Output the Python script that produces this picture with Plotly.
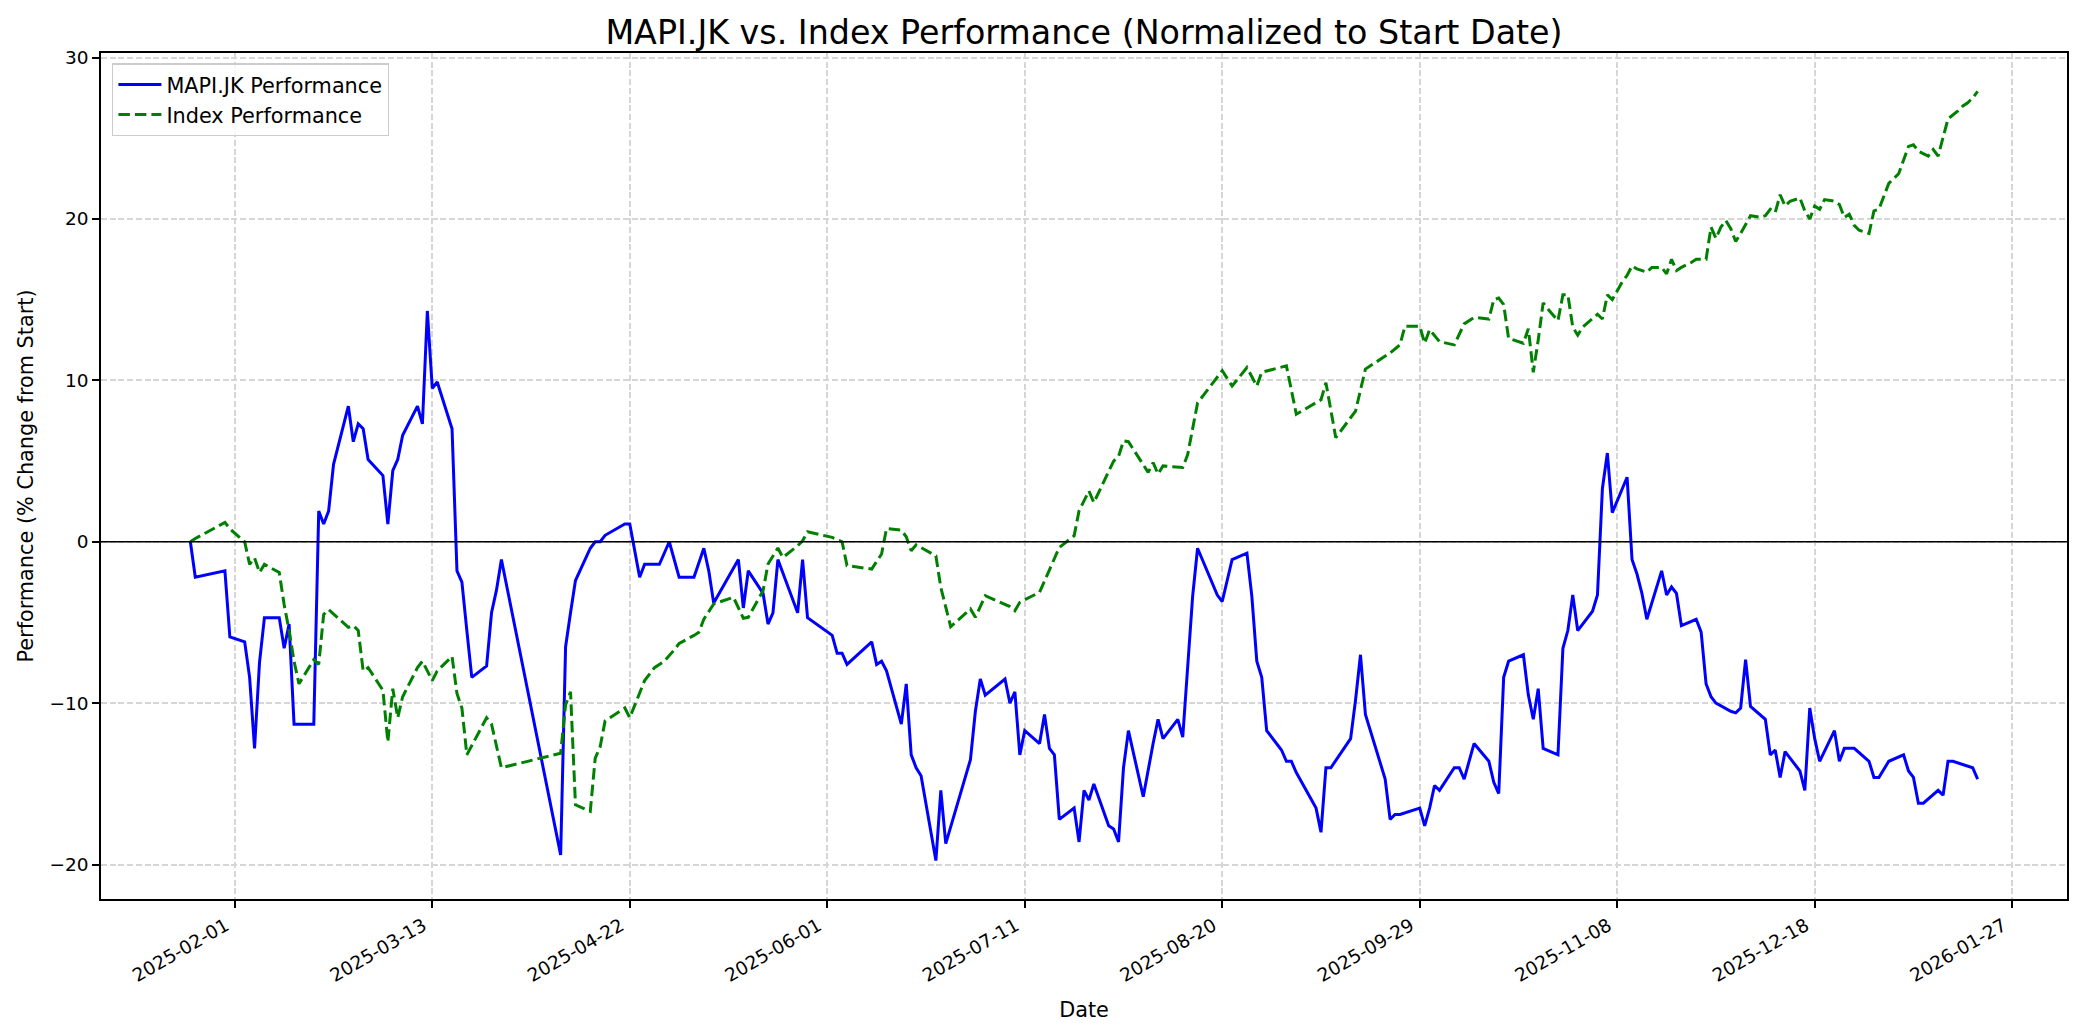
import plotly.graph_objects as go
import pandas as pd

TITLE = "MAPI.JK vs. Index Performance (Normalized to Start Date)"
X_LABEL = "Date"
Y_LABEL = "Performance (% Change from Start)"
STOCK_NAME = "MAPI.JK Performance"
INDEX_NAME = "Index Performance"

STOCK_DATES = [
    "2025-01-23", "2025-01-24", "2025-01-30", "2025-01-31",
    "2025-02-03", "2025-02-04", "2025-02-05", "2025-02-06", "2025-02-07", "2025-02-10", "2025-02-11",
    "2025-02-12", "2025-02-13", "2025-02-14", "2025-02-17", "2025-02-18", "2025-02-19", "2025-02-20",
    "2025-02-21", "2025-02-24", "2025-02-25", "2025-02-26", "2025-02-27", "2025-02-28",
    "2025-03-03", "2025-03-04", "2025-03-05", "2025-03-06", "2025-03-07", "2025-03-10", "2025-03-11",
    "2025-03-12", "2025-03-13", "2025-03-14", "2025-03-17", "2025-03-18", "2025-03-19", "2025-03-20",
    "2025-03-21", "2025-03-24", "2025-03-25", "2025-03-26", "2025-03-27",
    "2025-04-08", "2025-04-09", "2025-04-10", "2025-04-11", "2025-04-14", "2025-04-15", "2025-04-16",
    "2025-04-17", "2025-04-21", "2025-04-22", "2025-04-24", "2025-04-25", "2025-04-28", "2025-04-30",
    "2025-05-02", "2025-05-05", "2025-05-07", "2025-05-08", "2025-05-09", "2025-05-14", "2025-05-15",
    "2025-05-16", "2025-05-19", "2025-05-20", "2025-05-21", "2025-05-22", "2025-05-26", "2025-05-27",
    "2025-05-28",
    "2025-06-02", "2025-06-03", "2025-06-04", "2025-06-05", "2025-06-10", "2025-06-11", "2025-06-12",
    "2025-06-13", "2025-06-16", "2025-06-17", "2025-06-18", "2025-06-19", "2025-06-20", "2025-06-23",
    "2025-06-24", "2025-06-25", "2025-06-30",
    "2025-07-01", "2025-07-02", "2025-07-03", "2025-07-07", "2025-07-08", "2025-07-09", "2025-07-10",
    "2025-07-11", "2025-07-14", "2025-07-15", "2025-07-16", "2025-07-17", "2025-07-18", "2025-07-21",
    "2025-07-22", "2025-07-23", "2025-07-24", "2025-07-25", "2025-07-28", "2025-07-29", "2025-07-30",
    "2025-07-31",
    "2025-08-01", "2025-08-04", "2025-08-06", "2025-08-07", "2025-08-08", "2025-08-11", "2025-08-12",
    "2025-08-13", "2025-08-14", "2025-08-15", "2025-08-19", "2025-08-20", "2025-08-22", "2025-08-25",
    "2025-08-26", "2025-08-27", "2025-08-28", "2025-08-29",
    "2025-09-01", "2025-09-02", "2025-09-03", "2025-09-04", "2025-09-08", "2025-09-09", "2025-09-10",
    "2025-09-11", "2025-09-15", "2025-09-16", "2025-09-17", "2025-09-18", "2025-09-19", "2025-09-22",
    "2025-09-23", "2025-09-24", "2025-09-25", "2025-09-29", "2025-09-30",
    "2025-10-01", "2025-10-02", "2025-10-03", "2025-10-06", "2025-10-07", "2025-10-08", "2025-10-09",
    "2025-10-10", "2025-10-13", "2025-10-14", "2025-10-15", "2025-10-16", "2025-10-17", "2025-10-20",
    "2025-10-21", "2025-10-22", "2025-10-23", "2025-10-24", "2025-10-27", "2025-10-28", "2025-10-29",
    "2025-10-30", "2025-10-31",
    "2025-11-03", "2025-11-04", "2025-11-05", "2025-11-06", "2025-11-07", "2025-11-10", "2025-11-11",
    "2025-11-12", "2025-11-13", "2025-11-14", "2025-11-17", "2025-11-18", "2025-11-19", "2025-11-20",
    "2025-11-21", "2025-11-24", "2025-11-25", "2025-11-26", "2025-11-27", "2025-11-28",
    "2025-12-01", "2025-12-02", "2025-12-03", "2025-12-04", "2025-12-05", "2025-12-08", "2025-12-09",
    "2025-12-10", "2025-12-11", "2025-12-12", "2025-12-15", "2025-12-16", "2025-12-17", "2025-12-18",
    "2025-12-19", "2025-12-22", "2025-12-23", "2025-12-24", "2025-12-26", "2025-12-29", "2025-12-30",
    "2025-12-31",
    "2026-01-02", "2026-01-05", "2026-01-06", "2026-01-07", "2026-01-08", "2026-01-09", "2026-01-12",
    "2026-01-13", "2026-01-14", "2026-01-15", "2026-01-19", "2026-01-20",
]
STOCK_VALUES = [
    0.0, -2.2, -1.8, -5.9,
    -6.2, -8.4, -12.8, -7.5, -4.7, -4.7, -6.6,
    -5.1, -11.3, -11.3, -11.3, 1.9, 1.1, 1.9,
    4.8, 8.4, 6.2, 7.3, 7.0, 5.1,
    4.1, 1.1, 4.4, 5.1, 6.6, 8.4, 7.3,
    14.3, 9.5, 9.9, 7.0, -1.8, -2.5, -5.5,
    -8.4, -7.7, -4.4, -3.0, -1.1,
    -19.4, -6.5, -4.4, -2.4, -0.4, 0.0, 0.0,
    0.4, 1.1, 1.1, -2.2, -1.4, -1.4, 0.0,
    -2.2, -2.2, -0.4, -1.8, -3.8, -1.1, -4.1,
    -1.8, -3.2, -5.1, -4.4, -1.1, -4.4, -1.1,
    -4.7,
    -5.8, -6.9, -6.9, -7.6, -6.2, -7.6, -7.4,
    -8.0, -11.3, -8.8, -13.2, -14.0, -14.5, -19.75,
    -15.4, -18.7, -13.5,
    -10.5, -8.5, -9.5, -8.5, -10.0, -9.3, -13.2,
    -11.7, -12.5, -10.7, -12.8, -13.2, -17.2, -16.5,
    -18.6, -15.4, -16.0, -15.0, -17.6, -17.8, -18.6,
    -14.0,
    -11.7, -15.8, -12.5, -11.0, -12.2, -11.0, -12.1,
    -8.0, -3.4, -0.4, -3.3, -3.7, -1.1, -0.7,
    -3.4, -7.4, -8.4, -11.7,
    -12.9, -13.6, -13.6, -14.3, -16.5, -18.0, -14.0,
    -14.0, -12.2, -9.8, -7.0, -10.7, -11.7, -14.7,
    -17.2, -16.9, -16.9, -16.5, -17.6,
    -16.5, -15.1, -15.4, -14.0, -14.0, -14.7, -13.6,
    -12.5, -13.6, -14.9, -15.6, -8.4, -7.4, -7.0,
    -9.5, -11.0, -9.1, -12.8, -13.2, -6.6, -5.5,
    -3.3, -5.5,
    -4.3, -3.3, 3.3, 5.5, 1.8, 4.0, -1.1,
    -2.0, -3.2, -4.8, -1.8, -3.3, -2.8, -3.2,
    -5.2, -4.8, -5.6, -8.8, -9.6, -10.0,
    -10.5, -10.6, -10.3, -7.3, -10.2, -11.0, -13.2,
    -12.9, -14.6, -13.0, -14.2, -15.4, -10.3, -12.2,
    -13.6, -11.7, -13.6, -12.8, -12.8, -13.6, -14.6,
    -14.6,
    -13.6, -13.2, -14.2, -14.6, -16.2, -16.2, -15.4,
    -15.7, -13.6, -13.6, -14.0, -14.7,
]

INDEX_DATES = [
    "2025-01-23", "2025-01-24", "2025-01-30", "2025-01-31",
    "2025-02-03", "2025-02-04", "2025-02-05", "2025-02-06", "2025-02-07", "2025-02-10", "2025-02-11",
    "2025-02-12", "2025-02-13", "2025-02-14", "2025-02-17", "2025-02-18", "2025-02-19", "2025-02-20",
    "2025-02-24", "2025-02-25", "2025-02-26", "2025-02-27", "2025-02-28",
    "2025-03-03", "2025-03-04", "2025-03-05", "2025-03-06", "2025-03-07", "2025-03-10", "2025-03-11",
    "2025-03-12", "2025-03-13", "2025-03-14", "2025-03-17", "2025-03-18", "2025-03-19", "2025-03-20",
    "2025-03-21", "2025-03-24", "2025-03-25", "2025-03-27",
    "2025-04-08", "2025-04-09", "2025-04-10", "2025-04-11", "2025-04-14", "2025-04-15", "2025-04-16",
    "2025-04-17", "2025-04-18", "2025-04-21", "2025-04-22", "2025-04-23", "2025-04-24", "2025-04-25",
    "2025-04-27", "2025-04-29",
    "2025-05-01", "2025-05-02", "2025-05-05", "2025-05-06", "2025-05-07", "2025-05-09", "2025-05-13",
    "2025-05-14", "2025-05-15", "2025-05-16", "2025-05-19", "2025-05-20", "2025-05-22", "2025-05-23",
    "2025-05-26", "2025-05-27", "2025-05-28",
    "2025-06-02", "2025-06-04", "2025-06-05", "2025-06-10", "2025-06-12", "2025-06-13", "2025-06-16",
    "2025-06-17", "2025-06-18", "2025-06-19", "2025-06-23", "2025-06-24", "2025-06-26", "2025-06-30",
    "2025-07-01", "2025-07-03", "2025-07-08", "2025-07-09", "2025-07-10", "2025-07-14", "2025-07-18",
    "2025-07-21", "2025-07-22", "2025-07-24", "2025-07-25", "2025-07-29", "2025-07-30", "2025-07-31",
    "2025-08-01", "2025-08-04", "2025-08-05", "2025-08-06", "2025-08-07", "2025-08-08", "2025-08-12",
    "2025-08-13", "2025-08-15", "2025-08-20", "2025-08-22", "2025-08-25", "2025-08-27", "2025-08-28",
    "2025-09-02", "2025-09-04", "2025-09-09", "2025-09-10", "2025-09-12", "2025-09-16", "2025-09-18",
    "2025-09-23", "2025-09-25", "2025-09-26", "2025-09-29", "2025-09-30",
    "2025-10-01", "2025-10-03", "2025-10-06", "2025-10-08", "2025-10-10", "2025-10-13", "2025-10-14",
    "2025-10-15", "2025-10-16", "2025-10-17", "2025-10-20", "2025-10-21", "2025-10-22", "2025-10-23",
    "2025-10-24", "2025-10-25", "2025-10-27", "2025-10-28", "2025-10-29", "2025-10-30", "2025-10-31",
    "2025-11-01", "2025-11-03", "2025-11-04", "2025-11-05", "2025-11-06", "2025-11-07", "2025-11-08",
    "2025-11-09", "2025-11-10", "2025-11-11", "2025-11-12", "2025-11-14", "2025-11-15", "2025-11-17",
    "2025-11-18", "2025-11-19", "2025-11-20", "2025-11-21", "2025-11-23", "2025-11-24", "2025-11-26",
    "2025-11-27", "2025-11-28", "2025-11-29", "2025-11-30",
    "2025-12-01", "2025-12-02", "2025-12-03", "2025-12-05", "2025-12-07", "2025-12-08", "2025-12-09",
    "2025-12-10", "2025-12-11", "2025-12-12", "2025-12-13", "2025-12-15", "2025-12-16", "2025-12-17",
    "2025-12-18", "2025-12-19", "2025-12-20", "2025-12-22", "2025-12-23", "2025-12-24", "2025-12-25",
    "2025-12-26", "2025-12-27", "2025-12-29", "2025-12-30", "2025-12-31",
    "2026-01-01", "2026-01-02", "2026-01-04", "2026-01-05", "2026-01-06", "2026-01-07", "2026-01-08",
    "2026-01-10", "2026-01-11", "2026-01-12", "2026-01-13", "2026-01-14", "2026-01-16", "2026-01-17",
    "2026-01-18", "2026-01-19", "2026-01-20",
]
INDEX_VALUES = [
    0.0, 0.2, 1.2, 0.8,
    0.0, -1.4, -1.0, -1.9, -1.4, -1.9, -3.9,
    -5.5, -7.4, -8.8, -7.3, -7.6, -4.5, -4.2,
    -5.3, -5.2, -5.5, -8.0, -7.8,
    -9.2, -12.4, -9.1, -10.9, -9.6, -7.8, -7.4,
    -8.0, -8.6, -8.0, -7.1, -9.4, -10.3, -13.2,
    -12.6, -10.9, -11.3, -14.0,
    -13.1, -10.1, -9.3, -16.3, -16.7, -13.4, -12.7,
    -11.1, -10.9, -10.3, -10.9, -10.1, -9.3, -8.6,
    -7.8, -7.4,
    -6.7, -6.3, -5.8, -5.6, -4.8, -3.85, -3.44,
    -4.06, -4.74, -4.68, -3.03, -1.38, -0.39, -0.97,
    -0.25, 0.06, 0.62,
    0.27, 0.0, -1.48, -1.69, -0.76, 0.82, 0.72,
    0.31, -0.56, -0.19, -0.87, -2.83, -5.26, -4.16,
    -4.68, -3.34, -4.02, -4.27, -3.75, -3.13, -0.35,
    0.37, 1.92, 3.15, 2.43, 5.0, 5.3, 6.25,
    6.2, 4.8, 4.3, 4.9, 4.2, 4.7, 4.6,
    5.4, 8.6, 10.6, 9.65, 10.8, 9.65, 10.5,
    10.9, 7.9, 8.8, 9.85, 6.45, 8.1, 10.7,
    11.7, 12.2, 13.36, 13.36, 12.3,
    13.15, 12.4, 12.2, 13.5, 13.9, 13.8, 15.0,
    15.1, 14.7, 12.6, 12.3, 13.2, 10.5, 12.5,
    14.8, 14.4, 13.7, 15.3, 15.3, 13.3, 12.8,
    13.3, 13.8, 14.1, 13.8, 15.3, 15.0, 15.6,
    16.1, 16.5, 17.1, 16.9, 16.7, 17.0, 17.0,
    16.6, 17.5, 16.8, 17.0, 17.3, 17.5, 17.5,
    19.5, 18.8, 19.5, 19.9,
    19.4, 18.6, 19.1, 20.2, 20.1, 20.2, 20.6,
    20.4, 21.5, 20.8, 21.1, 21.3, 20.5, 20.0,
    20.8, 20.6, 21.2, 21.1, 20.9, 20.1, 20.3,
    19.6, 19.3, 19.1, 20.5, 20.6,
    21.4, 22.2, 22.8, 23.6, 24.5, 24.6, 24.2,
    23.9, 24.3, 23.9, 25.0, 26.2, 26.7, 27.0,
    27.2, 27.5, 27.9,
]

X_TICKS = ["2025-02-01", "2025-03-13", "2025-04-22", "2025-06-01", "2025-07-11",
           "2025-08-20", "2025-09-29", "2025-11-08", "2025-12-18", "2026-01-27"]
Y_TICKS = [-20, -10, 0, 10, 20, 30]

W, H = 2084, 1035
FONT = "DejaVu Sans"
TICK_SIZE = 18.5
LABEL_SIZE = 20.8
TITLE_SIZE = 33.3

# axis limits with a 5% margin, like the original
all_dates = pd.to_datetime(STOCK_DATES + INDEX_DATES)
dmin, dmax = all_dates.min(), all_dates.max()
dpad = (dmax - dmin) * 0.05
all_vals = STOCK_VALUES + INDEX_VALUES
vmin, vmax = min(all_vals), max(all_vals)
vpad = (vmax - vmin) * 0.05

fig = go.Figure()
fig.add_trace(go.Scatter(
    x=STOCK_DATES, y=STOCK_VALUES, mode="lines", name=STOCK_NAME,
    line=dict(color="#0000ff", width=3.0), legendgroup="a",
))
fig.add_trace(go.Scatter(
    x=INDEX_DATES, y=INDEX_VALUES, mode="lines", name=INDEX_NAME,
    line=dict(color="#008000", width=3.0, dash="11.5px,5px"), legendgroup="b",
))

fig.add_shape(type="line", xref="paper", x0=0, x1=1, yref="y", y0=0, y1=0,
              line=dict(color="black", width=1.4), layer="above")

axis_common = dict(
    showline=True, mirror=True, linecolor="black", linewidth=1.6,
    ticks="outside", ticklen=7, tickwidth=1.6, tickcolor="black",
    showgrid=True, gridcolor="#d6d6d6", gridwidth=1.6, griddash="6px,2.7px",
    zeroline=False, tickfont=dict(family=FONT, size=TICK_SIZE, color="black"),
)

fig.update_xaxes(
    type="date", range=[dmin - dpad, dmax + dpad],
    tickvals=X_TICKS, ticktext=X_TICKS, tickangle=-30, ticklabelshift=-9,
    title=dict(text=X_LABEL, font=dict(family=FONT, size=LABEL_SIZE, color="black"), standoff=17),
    **axis_common,
)
fig.update_yaxes(
    range=[vmin - vpad, vmax + vpad], tickvals=Y_TICKS,
    title=dict(text=Y_LABEL, font=dict(family=FONT, size=LABEL_SIZE, color="black"), standoff=10),
    **axis_common,
)

fig.update_layout(
    width=W, height=H,
    paper_bgcolor="white", plot_bgcolor="white",
    margin=dict(l=101, r=17, t=53, b=136, autoexpand=False),
    font=dict(family=FONT, size=LABEL_SIZE, color="black"),
    title=dict(text=TITLE, x=0.5, xref="paper", xanchor="center",
               y=1 - 32 / H, yref="container", yanchor="middle",
               font=dict(family=FONT, size=TITLE_SIZE, color="black")),
    legend=dict(x=0.0056, y=0.988, xanchor="left", yanchor="top",
                bgcolor="rgba(255,255,255,0.8)", bordercolor="#cccccc", borderwidth=1.4,
                font=dict(family=FONT, size=LABEL_SIZE, color="black"),
                tracegroupgap=0, itemwidth=43),
    showlegend=True,
)

fig.write_html("out.html", config={"displayModeBar": False},
               post_script="document.body.style.margin='0px';")
